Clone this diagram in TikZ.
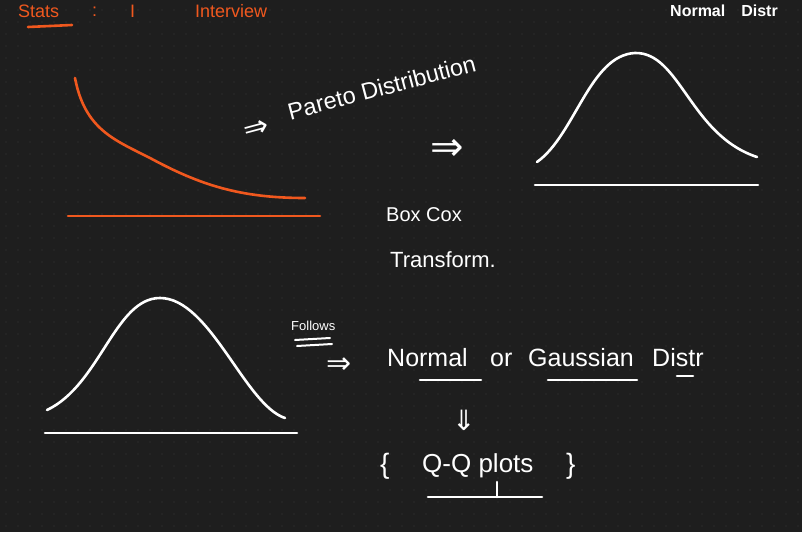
\documentclass[tikz,border=0pt]{standalone}
\usepackage{fontspec}
\setmainfont{Liberation Sans}
\newfontfamily\symfont{DejaVu Sans}
\begin{document}
\begin{tikzpicture}[x=1pt,y=-1pt,
  ink/.style={draw=white,line width=2.6pt,line cap=round,line join=round},
  oink/.style={draw=orangeink,line width=2.6pt,line cap=round,line join=round},
  wtext/.style={text=white,font=\fontsize{20}{22}\selectfont,inner sep=0pt,anchor=west},
  otext/.style={text=orangeink,font=\fontsize{18}{20}\selectfont,inner sep=0pt,anchor=west}]
\definecolor{bg}{HTML}{1E1E1E}
\definecolor{orangeink}{HTML}{F0581E}
\definecolor{dotc}{HTML}{2C2C2C}
\fill[bg] (0,0) rectangle (802,532);
\useasboundingbox (0,0) rectangle (802,532);
\clip (0,0) rectangle (802,532);
\foreach \i in {0,...,66}{\foreach \j in {0,...,44}{\fill[dotc] (6+12*\i,10+12*\j) circle (0.9);}}
% top header
\node[otext] (stats) at (18,11) {Stats};
\node[otext] (colon) at (92,12) {:};
\node[otext] (one) at (130,11) {I};
\node[otext] (interview) at (195,11) {Interview};
\draw[oink] (28,27) -- (72,25);
\node[wtext,font=\fontsize{16}{18}\selectfont\bfseries] (normhead) at (670,11) {Normal\quad Distr};
% orange decay curve
\draw[oink] (75,78) .. controls (85,130) and (115,140) .. (150,158) .. controls (200,185) and (240,198) .. (305,198);
\draw[oink] (68,216) -- (320,216);
% pareto label
\node[wtext,font=\fontsize{30}{32}\selectfont\symfont,rotate=15] (arr0) at (244,133) {⇒};
\node[wtext,font=\fontsize{23.5}{25}\selectfont,rotate=14.7] (pareto) at (288,112) {Pareto Distribution};
\node[wtext,font=\fontsize{40}{42}\selectfont\symfont] (arr1) at (430,150) {⇒};
% top-right bell
\draw[ink] (537,162) .. controls (575,135) and (590,55) .. (635,53) .. controls (680,52) and (690,135) .. (757,157);
\draw[ink] (535,185) -- (758,185);
% Box Cox
\node[wtext] (boxcox) at (386,215) {Box Cox};
\node[wtext,font=\fontsize{22}{24}\selectfont] (transform) at (390,260) {Transform.};
% bottom-left bell
\draw[ink] (47,410) .. controls (100,385) and (115,298) .. (160,298) .. controls (210,298) and (245,405) .. (285,418);
\draw[ink] (45,433) -- (297,433);
% Follows
\node[wtext,font=\fontsize{13}{15}\selectfont] (follows) at (291,326) {Follows};
\draw[ink,line width=2pt] (295,340) -- (330,338);
\draw[ink,line width=2pt] (297,346) -- (332,344);
\node[wtext,font=\fontsize{30}{32}\selectfont\symfont] (arr2) at (326,366) {⇒};
\tikzset{nline/.style={wtext,anchor=base west,font=\fontsize{25}{27}\selectfont}}
\node[nline] (normal) at (387,366) {Normal};
\node[nline] (or) at (490,366) {or};
\node[nline] (gauss) at (528,366) {Gaussian};
\node[nline] (distr) at (652,366) {Distr};
\draw[ink] (420,380) -- (481,380);
\draw[ink] (548,380) -- (637,380);
\draw[ink] (677,376) -- (693,376);
\node[wtext,font=\fontsize{28}{30}\selectfont\symfont] (arr3) at (452,420) {⇓};
\node[wtext,font=\fontsize{28}{30}\selectfont] (lbr) at (380,466) {\{};
\node[wtext,font=\fontsize{26}{28}\selectfont] (qq) at (422,466) {Q-Q plots};
\node[wtext,font=\fontsize{28}{30}\selectfont] (rbr) at (566,466) {\}};
\draw[ink] (428,497) -- (542,497);
\draw[ink] (497,497) -- (497,482);
\end{tikzpicture}
\end{document}
